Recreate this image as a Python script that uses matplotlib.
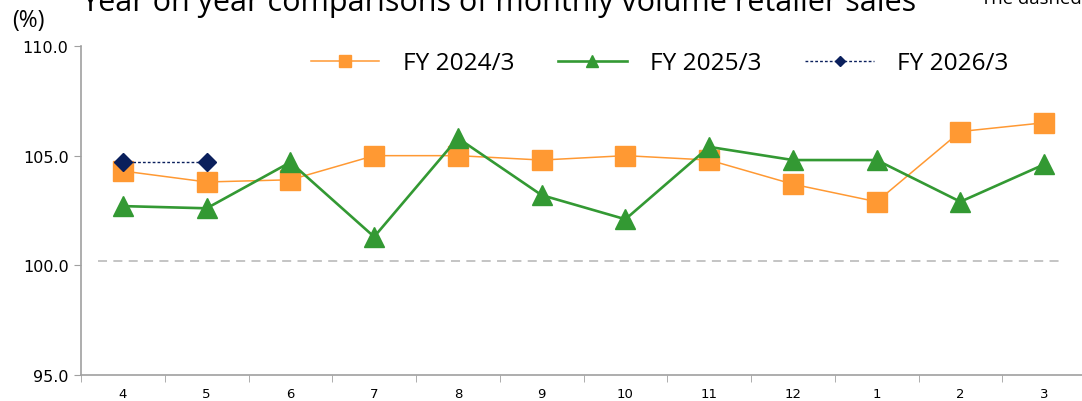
import matplotlib
matplotlib.use("Agg")
import matplotlib.pyplot as plt

# monthly index, fiscal year starts in April
months = ["4", "5", "6", "7", "8", "9", "10", "11", "12", "1", "2", "3"]
fy2024 = [104.3, 103.8, 103.9, 105.0, 105.0, 104.8, 105.0, 104.8, 103.7, 102.9, 106.1, 106.5]
fy2025 = [102.7, 102.6, 104.7, 101.3, 105.8, 103.2, 102.1, 105.4, 104.8, 104.8, 102.9, 104.6]
fy2026 = [104.7, 104.7]
baseline = 100.2

ORANGE = "#FF9933"
GREEN = "#339933"
NAVY = "#0A1F5C"
AXIS = "#A0A0A0"
TEXT_FONT = ["Open Sans", "DejaVu Sans"]

plt.rcParams["font.family"] = ["DejaVu Sans"]

fig = plt.figure(figsize=(10.82, 4.02), dpi=100)
ax = fig.add_axes([0.0749, 0.0647, 0.9288, 0.8184])

x = list(range(len(months)))
ax.axhline(baseline, xmin=0.017, xmax=0.976, color="#BFBFBF", lw=1.3,
           linestyle=(0, (5, 3.5)), zorder=1)
ax.plot(x, fy2024, color=ORANGE, lw=1.1, marker="s", ms=14.5, mec=ORANGE,
        label="FY 2024/3", zorder=3)
ax.plot(x, fy2025, color=GREEN, lw=1.9, marker="^", ms=15, mec=GREEN,
        label="FY 2025/3", zorder=4)
ax.plot(x[:len(fy2026)], fy2026, color=NAVY, lw=1.0, linestyle=(0, (2, 1.5)),
        marker="D", ms=9, mec=NAVY, label="FY 2026/3", zorder=5)

ax.set_xlim(-0.5, len(months) - 0.5)
ax.set_ylim(95, 110)
ax.set_yticks([95, 100, 105, 110])
ax.set_yticklabels([f"{v:.1f}" for v in [95, 100, 105, 110]], fontsize=11.5)
ax.set_xticks(x)
ax.set_xticklabels(months, fontsize=9.5)
ax.set_xticks([i - 0.5 for i in range(len(months) + 1)], minor=True)
ax.tick_params(axis="x", which="major", length=0, pad=9)
ax.tick_params(axis="x", which="minor", length=5, color=AXIS, direction="out")
ax.tick_params(axis="y", length=5, color=AXIS, direction="out", pad=4)
for side in ("top", "right"):
    ax.spines[side].set_visible(False)
for side in ("left", "bottom"):
    ax.spines[side].set_color(AXIS)
    ax.spines[side].set_linewidth(1.2)

ax.legend(loc="center left", bbox_to_anchor=(0.2874, 0.840),
          bbox_transform=fig.transFigure, ncol=3, frameon=False,
          prop={"family": TEXT_FONT, "size": 17.6}, handlelength=2.8,
          handletextpad=0.95, columnspacing=1.8, markerscale=0.55,
          borderpad=0, borderaxespad=0)

fig.text(0.075, 0.9726, "Year on year comparisons of monthly volume retailer sales",
         fontsize=22, family=TEXT_FONT, va="baseline", ha="left")
fig.text(0.011, 0.948, "(%)", fontsize=16.5, family=TEXT_FONT, va="center", ha="left")
fig.text(0.907, 0.990, "The dashed", fontsize=13.3, family=TEXT_FONT,
         va="baseline", ha="left")

fig.savefig("out.png", dpi=100)
